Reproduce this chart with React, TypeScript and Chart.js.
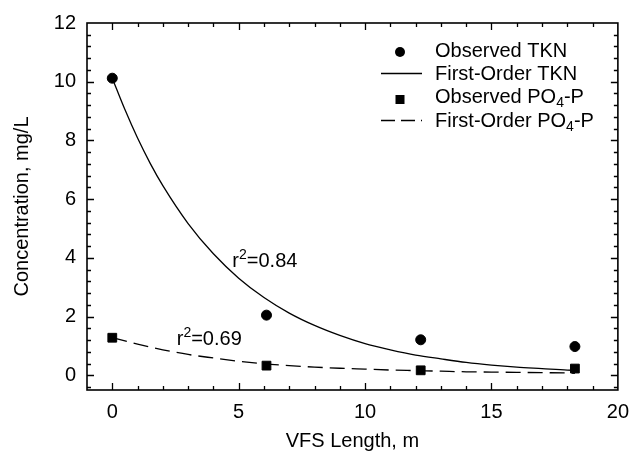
import React, { useEffect, useRef } from "react";
import { Chart, registerables } from "chart.js";

Chart.register(...registerables);

// ---- data ----
const distances = [0, 6.1, 12.2, 18.3];
const observedTKN = [10.12, 2.05, 1.21, 0.98];
const observedPO4 = [1.28, 0.33, 0.17, 0.23];

const curveX = [0, 0.5, 1, 1.5, 2, 3, 4, 5, 6, 7, 8, 9, 10, 11, 12, 13, 14, 15, 16, 17, 18, 18.3];
const firstOrderTKN = [10.12, 9.05, 8.08, 7.22, 6.46, 5.17, 4.14, 3.31, 2.65, 2.12, 1.7, 1.36, 1.08, 0.87, 0.69, 0.56, 0.44, 0.35, 0.28, 0.23, 0.18, 0.17];
const firstOrderPO4 = [1.28, 1.17, 1.06, 0.96, 0.87, 0.71, 0.59, 0.48, 0.39, 0.33, 0.28, 0.24, 0.21, 0.18, 0.16, 0.14, 0.12, 0.11, 0.1, 0.09, 0.08, 0.07];

const xTicks = [0, 5, 10, 15, 20];
const yTicks = [0, 2, 4, 6, 8, 10, 12];
const xMinorStep = 1;
const yMinorStep = 0.4;

const xTitle = "VFS Length, m";
const yTitle = "Concentration, mg/L";

const r2Values = ["0.84", "0.69"];
const r2Anchors = [
  { x: 4.75, y: 3.94 },
  { x: 2.55, y: 1.28 },
];

type Part = { t: string; sub?: boolean };
const legendEntries: { kind: "circle" | "line" | "rect" | "dash"; parts: Part[] }[] = [
  { kind: "circle", parts: [{ t: "Observed TKN" }] },
  { kind: "line", parts: [{ t: "First-Order TKN" }] },
  { kind: "rect", parts: [{ t: "Observed PO" }, { t: "4", sub: true }, { t: "-P" }] },
  { kind: "dash", parts: [{ t: "First-Order PO" }, { t: "4", sub: true }, { t: "-P" }] },
];

const FONT = "'Liberation Sans', Arial, Helvetica, sans-serif";
const DASH = [15, 7];

const overlayPlugin = {
  id: "overlay",
  afterDraw(chart: any) {
    const { ctx, chartArea, scales } = chart;
    const { left, right, top, bottom } = chartArea;
    const xs = scales.x;
    const ys = scales.y;
    ctx.save();
    ctx.strokeStyle = "#000";
    ctx.fillStyle = "#000";
    // frame
    ctx.lineWidth = 1.6;
    ctx.strokeRect(left, top, right - left, bottom - top);
    // ticks
    ctx.lineWidth = 1.3;
    const drawX = (v: number, len: number) => {
      const p = Math.round(xs.getPixelForValue(v)) + 0.5;
      if (p <= left + 1 || p >= right - 1) return;
      ctx.beginPath();
      ctx.moveTo(p, bottom);
      ctx.lineTo(p, bottom - len);
      ctx.moveTo(p, top);
      ctx.lineTo(p, top + len);
      ctx.stroke();
    };
    const drawY = (v: number, len: number) => {
      const p = Math.round(ys.getPixelForValue(v)) + 0.5;
      if (p <= top + 1 || p >= bottom - 1) return;
      ctx.beginPath();
      ctx.moveTo(left, p);
      ctx.lineTo(left + len, p);
      ctx.moveTo(right, p);
      ctx.lineTo(right - len, p);
      ctx.stroke();
    };
    for (let i = Math.ceil(xs.min / xMinorStep); i <= Math.floor(xs.max / xMinorStep); i++) {
      const v = i * xMinorStep;
      drawX(v, xTicks.includes(v) ? 7 : 4);
    }
    for (let i = Math.ceil(ys.min / yMinorStep - 1e-6); i <= Math.floor(ys.max / yMinorStep + 1e-6); i++) {
      const v = Math.round(i * yMinorStep * 100) / 100;
      drawY(v, yTicks.includes(v) ? 7 : 4);
    }

    // text helper with sub/superscripts
    const drawParts = (parts: Part[], x: number, y: number, size: number, sup = false) => {
      let cx = x;
      ctx.textBaseline = "alphabetic";
      ctx.textAlign = "left";
      for (const p of parts) {
        if (p.sub) {
          ctx.font = `${Math.round(size * 0.7)}px ${FONT}`;
          ctx.fillText(p.t, cx, sup ? y - size * 0.4 : y + size * 0.2);
        } else {
          ctx.font = `${size}px ${FONT}`;
          ctx.fillText(p.t, cx, y);
        }
        cx += ctx.measureText(p.t).width;
      }
    };

    // r² annotations
    r2Values.forEach((val, i) => {
      const a = r2Anchors[i];
      const px = xs.getPixelForValue(a.x);
      const py = ys.getPixelForValue(a.y);
      drawParts([{ t: "r" }, { t: "2", sub: true }, { t: "=" + val }], px, py + 7, 20, true);
    });

    // legend
    const rowY = [50, 73, 96, 120];
    const markX = 400;
    const textX = 435;
    legendEntries.forEach((e, i) => {
      const y = rowY[i];
      ctx.lineWidth = 1.3;
      if (e.kind === "circle") {
        ctx.beginPath();
        ctx.arc(markX, y + 2, 5, 0, Math.PI * 2);
        ctx.fill();
      } else if (e.kind === "rect") {
        ctx.fillRect(markX - 4.5, y - 1, 9, 9);
      } else {
        ctx.setLineDash(e.kind === "dash" ? [14, 6] : []);
        ctx.beginPath();
        ctx.moveTo(381, y + 0.5);
        ctx.lineTo(422, y + 0.5);
        ctx.stroke();
        ctx.setLineDash([]);
      }
      drawParts(e.parts, textX, y + 7, 20);
    });
    ctx.restore();
  },
};

export default function App() {
  const ref = useRef<HTMLCanvasElement>(null);
  useEffect(() => {
    if (!ref.current) return;
    const tickFont = { family: FONT, size: 20 };
    const chart = new Chart(ref.current, {
      type: "scatter",
      data: {
        datasets: [
          {
            label: "Observed TKN",
            data: distances.map((d, i) => ({ x: d, y: observedTKN[i] })),
            pointStyle: "circle",
            pointRadius: 5,
            backgroundColor: "#000",
            borderColor: "#000",
            showLine: false,
          },
          {
            label: "First-Order TKN",
            data: curveX.map((d, i) => ({ x: d, y: firstOrderTKN[i] })),
            showLine: true,
            pointRadius: 0,
            borderColor: "#000",
            borderWidth: 1.3,
            cubicInterpolationMode: "monotone",
          },
          {
            label: "Observed PO4-P",
            data: distances.map((d, i) => ({ x: d, y: observedPO4[i] })),
            pointStyle: "rect",
            pointRadius: 6.2,
            backgroundColor: "#000",
            borderColor: "#000",
            showLine: false,
          },
          {
            label: "First-Order PO4-P",
            data: curveX.map((d, i) => ({ x: d, y: firstOrderPO4[i] })),
            showLine: true,
            pointRadius: 0,
            borderColor: "#000",
            borderWidth: 1.3,
            borderDash: DASH,
            cubicInterpolationMode: "monotone",
          },
        ],
      } as any,
      options: {
        responsive: false,
        animation: false,
        layout: { padding: { left: 0, right: 12, top: 19, bottom: 0 } },
        plugins: { legend: { display: false }, tooltip: { enabled: false } },
        scales: {
          x: {
            type: "linear",
            min: -1,
            max: 20,
            grid: { display: false, drawTicks: false },
            border: { display: false },
            afterBuildTicks: (s: any) => {
              s.ticks = xTicks.map((v) => ({ value: v }));
            },
            afterFit: (s: any) => {
              s.height = 63;
            },
            ticks: { color: "#000", font: tickFont, padding: 10, maxRotation: 0 },
            title: { display: true, text: xTitle, color: "#000", font: tickFont, padding: { top: 0, bottom: 0 } },
          },
          y: {
            type: "linear",
            min: -0.5,
            max: 12,
            grid: { display: false, drawTicks: false },
            border: { display: false },
            afterBuildTicks: (s: any) => {
              s.ticks = yTicks.map((v) => ({ value: v }));
            },
            afterFit: (s: any) => {
              s.width = 87;
            },
            ticks: { color: "#000", font: tickFont, padding: 11 },
            title: { display: true, text: yTitle, color: "#000", font: tickFont, padding: { top: 10, bottom: 0 } },
          },
        },
      } as any,
      plugins: [overlayPlugin],
    });
    return () => chart.destroy();
  }, []);
  return (
    <div style={{ position: "absolute", left: 0, top: 0, width: 639, height: 453, background: "#fff" }}>
      <canvas ref={ref} width={639} height={453} style={{ display: "block" }} />
    </div>
  );
}
